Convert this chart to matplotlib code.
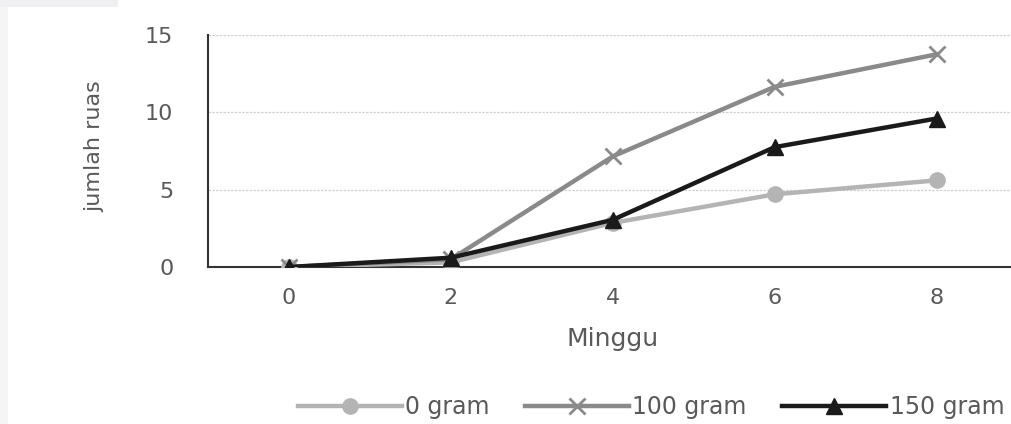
import matplotlib.pyplot as plt
from matplotlib.patches import Rectangle

weeks = [0, 2, 4, 6, 8]
gram_0 = [0.0, 0.3, 2.85, 4.7, 5.6]
gram_100 = [0.0, 0.5, 7.15, 11.65, 13.75]
gram_150 = [0.0, 0.6, 3.05, 7.75, 9.6]
y_ticks = [0, 5, 10, 15]

tick_color = "#595959"
font = "DejaVu Sans"

fig = plt.figure(figsize=(10.12, 4.24), dpi=100)
fig.patch.set_facecolor("white")

# grey strips of the screenshot border
fig.patches.append(Rectangle((0, 0), 8 / 1012, 1, transform=fig.transFigure,
                             facecolor="#f5f5f5", edgecolor="none", zorder=0))
fig.patches.append(Rectangle((0, 1 - 7 / 424), 118 / 1012, 7 / 424, transform=fig.transFigure,
                             facecolor="#f0f0f2", edgecolor="none", zorder=0))

ax = fig.add_axes([208 / 1012, 1 - 267 / 424, (1017.5 - 208) / 1012, (267 - 35) / 424])

ax.plot(weeks, gram_0, color="#b4b4b4", lw=3.2, marker="o", ms=11,
        label="0 gram", zorder=3)
ax.plot(weeks, gram_100, color="#8a8a8a", lw=3.2, marker="x", ms=11, mew=2,
        label="100 gram", zorder=4)
ax.plot(weeks, gram_150, color="#1a1a1a", lw=3.2, marker="^", ms=12,
        label="150 gram", zorder=5)

ax.set_xlim(-1, 9)
ax.set_ylim(0, 15)
ax.set_xticks(weeks)
ax.set_yticks(y_ticks)
ax.tick_params(length=0, labelsize=16, colors=tick_color)
ax.tick_params(axis="y", pad=25)
ax.tick_params(axis="x", pad=15)
for lbl in ax.get_xticklabels() + ax.get_yticklabels():
    lbl.set_family(font)

ax.grid(axis="y", color="#d0d0d0", lw=0.9, ls=(0, (2, 1)))
ax.set_axisbelow(True)
for side in ["top", "right"]:
    ax.spines[side].set_visible(False)
for side in ["left", "bottom"]:
    ax.spines[side].set_color("#333333")
    ax.spines[side].set_linewidth(1.5)

ax.set_xlabel("Minggu", fontsize=18, color=tick_color, family=font)
ax.xaxis.set_label_coords((613 - 208) / (1017.5 - 208), -60 / 232)
ax.set_ylabel("jumlah ruas", fontsize=16, color=tick_color, family=font)
ax.yaxis.set_label_coords(-(208 - 104) / (1017.5 - 208), 0.52)

leg = fig.legend(loc="center", bbox_to_anchor=(651 / 1012, 1 - 407 / 424), ncol=3,
                 frameon=False, handlelength=4.4, columnspacing=1.5, handletextpad=0.15,
                 prop={"family": font, "size": 17})
for txt in leg.get_texts():
    txt.set_color(tick_color)

fig.savefig("out.png", dpi=100)
